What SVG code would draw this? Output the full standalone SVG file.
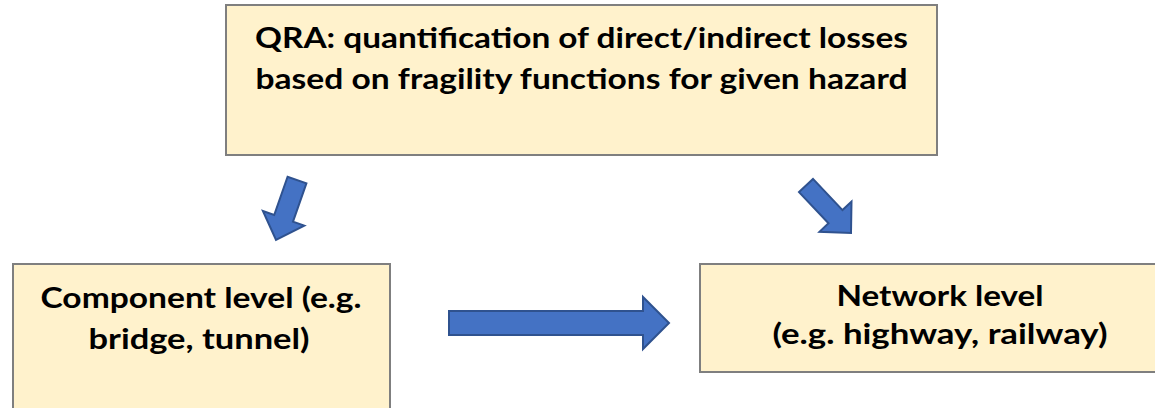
<svg xmlns="http://www.w3.org/2000/svg" width="1155" height="408" viewBox="0 0 1155 408">
  <style>
    .box { fill: #FFF2CC; stroke: #7F7F7F; stroke-width: 2; }
    .label { font-family: Lato, "Liberation Sans", sans-serif; font-weight: bold; font-size: 29px; fill: #000; text-anchor: middle; }
    .arrow { fill: #4472C4; stroke: #2F528F; stroke-width: 2; stroke-linejoin: miter; }
  </style>
  <rect width="1155" height="408" fill="#FFFFFF"/>

  <g id="qra">
    <rect class="box" x="226" y="5" width="711" height="150"/>
    <text class="label" x="581.5" y="48" textLength="653" lengthAdjust="spacingAndGlyphs">QRA: quantification of direct/indirect losses</text>
    <text class="label" x="581.5" y="89" textLength="652" lengthAdjust="spacingAndGlyphs">based on fragility functions for given hazard</text>
  </g>

  <g id="component">
    <rect class="box" x="13" y="264" width="377" height="160"/>
    <text class="label" x="201" y="308" textLength="321" lengthAdjust="spacingAndGlyphs">Component level (e.g.</text>
    <text class="label" x="199" y="349" textLength="221" lengthAdjust="spacingAndGlyphs">bridge, tunnel)</text>
  </g>

  <g id="network">
    <rect class="box" x="700" y="264" width="470" height="108"/>
    <text class="label" x="940" y="306" textLength="207" lengthAdjust="spacingAndGlyphs">Network level</text>
    <text class="label" x="940" y="344" textLength="335" lengthAdjust="spacingAndGlyphs">(e.g. highway, railway)</text>
  </g>

  <g id="connectors">
    <!-- QRA to component level -->
    <polygon class="arrow" points="306.4,183.3 293.0,221.6 304.3,225.6 276,240 262.9,211.0 274.2,215.0 287.6,176.7"/>
    <!-- QRA to network level -->
    <polygon class="arrow" points="813.0,178.9 842.5,210.1 851.5,201.6 851,233 819.5,231.8 828.5,223.3 799.0,192.1"/>
    <!-- component level to network level -->
    <polygon class="arrow" points="449,311 643,311 643,297 669,323 643,349 643,335 449,335"/>
  </g>
</svg>
